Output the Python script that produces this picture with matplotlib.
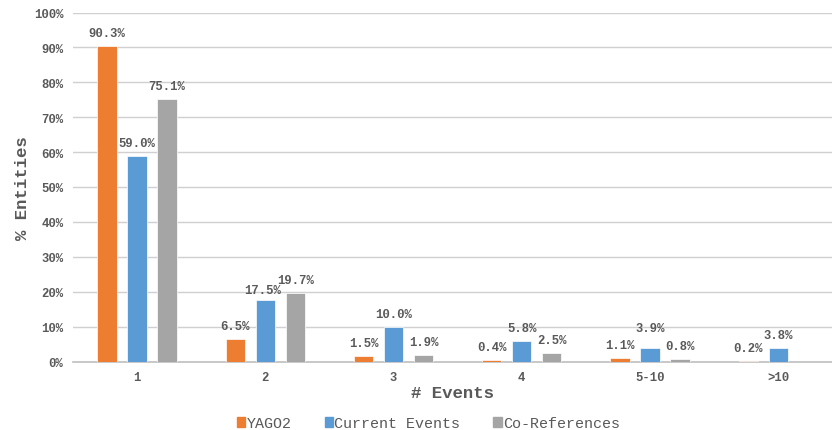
import matplotlib
matplotlib.use('Agg')
import matplotlib.pyplot as plt
import matplotlib.patches as mpatches
import numpy as np

# values
categories = ['1', '2', '3', '4', '5-10', '>10']
yago2 = [90.3, 6.5, 1.5, 0.4, 1.1, 0.2]
current_events = [59.0, 17.5, 10.0, 5.8, 3.9, 3.8]
co_refs = [75.1, 19.7, 1.9, 2.5, 0.8, None]

series_names = ['YAGO2', 'Current Events', 'Co-References']
series_colors = ['#ED7D31', '#5B9BD5', '#A5A5A5']

plt.rcParams['font.family'] = ['Liberation Mono', 'DejaVu Sans Mono']
txt = '#595959'

fig = plt.figure(figsize=(8.32, 4.31), dpi=100)
ax = fig.add_axes([73 / 832, (431 - 362.5) / 431, 759 / 832, 349 / 431])

x = np.arange(len(categories))
width = 0.15
offset = 0.234
all_series = [yago2, current_events, co_refs]

# label nudges (series index, category index) -> (dx, dy) in points, like Excel's overlap shifts
nudges = {(1, 4): (0, 5), (1, 1): (-2, -2)}

for k, (vals, name, col) in enumerate(zip(all_series, series_names, series_colors)):
    idx = [i for i, v in enumerate(vals) if v is not None]
    xs = [x[i] + (k - 1) * offset for i in idx]
    ys = [vals[i] for i in idx]
    bars = ax.bar(xs, ys, width=width, color=col, edgecolor='white', linewidth=0.5, zorder=3)
    for i, b, v in zip(idx, bars, ys):
        dx, dy = nudges.get((k, i), (0, 0))
        ax.annotate('%.1f%%' % v, xy=(b.get_x() + b.get_width() / 2, v),
                    xytext=(dx, 5 + dy), textcoords='offset points', ha='center', va='bottom',
                    fontsize=8.8, fontweight='bold', color=txt)

ax.set_ylim(0, 100)
ax.set_xlim(-0.5, 5.42)
ax.set_yticks(np.arange(0, 101, 10))
ax.set_yticklabels(['%d%%' % v for v in range(0, 101, 10)])
ax.set_xticks(x)
ax.set_xticklabels(categories)
ax.tick_params(axis='both', length=0, labelsize=8.8, labelcolor=txt)
ax.tick_params(axis='x', pad=7)
ax.tick_params(axis='y', pad=7)
for lab in ax.get_xticklabels() + ax.get_yticklabels():
    lab.set_fontweight('bold')

ax.grid(axis='y', color='#d0d0d0', linewidth=1, zorder=0)
for s in ['top', 'right', 'left']:
    ax.spines[s].set_visible(False)
ax.spines['bottom'].set_color('#bfbfbf')
ax.spines['bottom'].set_linewidth(1.2)

ax.set_xlabel('# Events', fontsize=12.5, fontweight='bold', color=txt, labelpad=1)
ax.set_ylabel('% Entities', fontsize=12.5, fontweight='bold', color=txt, labelpad=3)

handles = [mpatches.Patch(color=c, label=n) for c, n in zip(series_colors, series_names)]
leg = fig.legend(handles=handles, loc='lower center', bbox_to_anchor=(0.515, -0.032), ncol=3,
                 frameon=False, fontsize=10.8, handlelength=0.55, handleheight=0.55,
                 handletextpad=0.1, columnspacing=2.2)
for t in leg.get_texts():
    t.set_color(txt)

fig.savefig('out.png', dpi=100)
